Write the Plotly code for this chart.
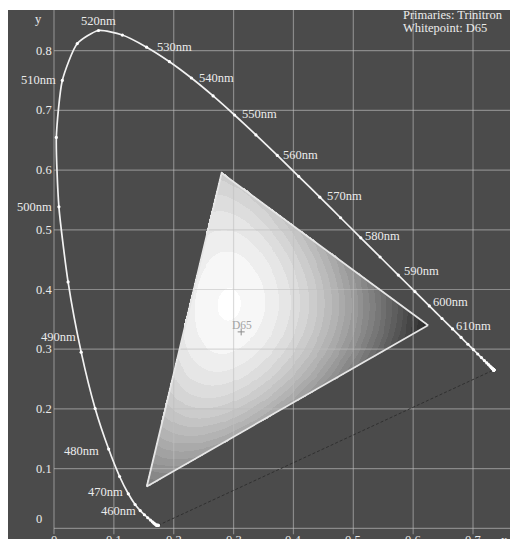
import numpy as np
import plotly.graph_objects as go

# CIE 1931 2-degree spectral locus, 5 nm steps (wavelength, x, y)
wavelengths = list(range(380, 705, 5)) + [710, 720, 730, 740, 750, 760, 770, 780]
locus_x = [0.1741, 0.1740, 0.1738, 0.1736, 0.1733, 0.1730, 0.1726, 0.1721, 0.1714, 0.1703,
           0.1689, 0.1669, 0.1644, 0.1611, 0.1566, 0.1510, 0.1440, 0.1355, 0.1241, 0.1096,
           0.0913, 0.0687, 0.0454, 0.0235, 0.0082, 0.0039, 0.0139, 0.0389, 0.0743, 0.1142,
           0.1547, 0.1929, 0.2296, 0.2658, 0.3016, 0.3373, 0.3731, 0.4087, 0.4441, 0.4788,
           0.5125, 0.5448, 0.5752, 0.6029, 0.6270, 0.6482, 0.6658, 0.6801, 0.6915, 0.7006,
           0.7079, 0.7140, 0.7190, 0.7230, 0.7260, 0.7283, 0.7300, 0.7311, 0.7320, 0.7327,
           0.7334, 0.7340, 0.7344, 0.7346, 0.7347,
           0.7347, 0.7347, 0.7347, 0.7347, 0.7347, 0.7347, 0.7347, 0.7347]
locus_y = [0.0050, 0.0050, 0.0049, 0.0049, 0.0048, 0.0048, 0.0048, 0.0048, 0.0051, 0.0058,
           0.0069, 0.0086, 0.0109, 0.0138, 0.0177, 0.0227, 0.0297, 0.0399, 0.0578, 0.0868,
           0.1327, 0.2007, 0.2950, 0.4127, 0.5384, 0.6548, 0.7502, 0.8120, 0.8338, 0.8262,
           0.8059, 0.7816, 0.7543, 0.7243, 0.6923, 0.6589, 0.6245, 0.5896, 0.5547, 0.5202,
           0.4866, 0.4544, 0.4242, 0.3965, 0.3725, 0.3514, 0.3340, 0.3197, 0.3083, 0.2993,
           0.2920, 0.2859, 0.2809, 0.2770, 0.2740, 0.2717, 0.2700, 0.2689, 0.2680, 0.2673,
           0.2666, 0.2660, 0.2656, 0.2654, 0.2653,
           0.2653, 0.2653, 0.2653, 0.2653, 0.2653, 0.2653, 0.2653, 0.2653]

labelled_nm = [460, 470, 480, 490, 500, 510, 520, 530, 540, 550, 560, 570, 580, 590, 600, 610]

# Trinitron primaries and D65 white point
primary_names = ["R", "G", "B"]
primary_x = [0.625, 0.280, 0.155]
primary_y = [0.340, 0.595, 0.070]
white_name = "D65"
white_x, white_y = 0.3127, 0.3290

x_ticks = [0, 0.1, 0.2, 0.3, 0.4, 0.5, 0.6, 0.7]
y_ticks = [0, 0.1, 0.2, 0.3, 0.4, 0.5, 0.6, 0.7, 0.8]
x_tick_text = ["0", "0.1", "0.2", "0.3", "0.4", "0.5", "0.6", "0.7"]
y_tick_text = ["0", "0.1", "0.2", "0.3", "0.4", "0.5", "0.6", "0.7", "0.8"]

BG = "#4b4b4b"
FG = "#ebebeb"
GRID = "rgba(191,191,191,0.55)"
FONT = "Liberation Serif, Times New Roman, serif"

X_RANGE = [-0.07685, 0.76178]
Y_RANGE = [-0.01792, 0.86817]

# grey shading of the gamut: corner tones, edge-midpoint tones, centre lift
CORNER_TONE = {"R": 0.15, "G": 0.80, "B": 0.48}
EDGE_TONE = {("G", "R"): 0.68, ("B", "R"): 0.64, ("B", "G"): 0.92}
CENTRE_LIFT = 0.10
TONE_STEPS = 30

fig = go.Figure()

# ---- gamut fill ----
gx = np.arange(0.150, 0.632, 0.0016)
gy = np.arange(0.066, 0.600, 0.0016)
GX, GY = np.meshgrid(gx, gy)
P = {n: np.array([px_, py_]) for n, px_, py_ in zip(primary_names, primary_x, primary_y)}
R, G, B = P["R"], P["G"], P["B"]
det = (R[0] - B[0]) * (G[1] - B[1]) - (R[1] - B[1]) * (G[0] - B[0])
dx_, dy_ = GX - B[0], GY - B[1]
bary = {}
bary["R"] = (dx_ * (G[1] - B[1]) - dy_ * (G[0] - B[0])) / det
bary["G"] = ((R[0] - B[0]) * dy_ - (R[1] - B[1]) * dx_) / det
bary["B"] = 1 - bary["R"] - bary["G"]
inside = (bary["R"] >= -0.003) & (bary["G"] >= -0.003) & (bary["B"] >= -0.003)
bc = {k: np.clip(v, 0, 1) for k, v in bary.items()}

# quadratic Bernstein patch on the triangle plus a cubic bubble term
tone = sum(CORNER_TONE[k] * bc[k] ** 2 for k in primary_names)
for (i, j), m in EDGE_TONE.items():
    ctrl = 2 * m - (CORNER_TONE[i] + CORNER_TONE[j]) / 2
    tone = tone + 2 * ctrl * bc[i] * bc[j]
tone = tone + CENTRE_LIFT * 27 * bc["R"] * bc["G"] * bc["B"]
tone = np.clip(tone, 0, 1)
tone = np.round(tone * TONE_STEPS) / TONE_STEPS
z = np.where(inside, tone, np.nan)
fig.add_trace(go.Heatmap(x=gx, y=gy, z=z, zmin=0, zmax=1,
                         colorscale=[[0, "#000000"], [1, "#ffffff"]],
                         showscale=False, hoverinfo="skip", zsmooth=False))

# ---- grid ----
gxs, gys = [], []
for t in y_ticks:
    gxs += [0, X_RANGE[1], None]
    gys += [t, t, None]
for t in x_ticks:
    gxs += [t, t, None]
    gys += [-0.01, Y_RANGE[1], None]
fig.add_trace(go.Scatter(x=gxs, y=gys, mode="lines",
                         line=dict(color=GRID, width=1.2), hoverinfo="skip"))

# ---- line of purples ----
fig.add_trace(go.Scatter(x=[locus_x[0], locus_x[-1]], y=[locus_y[0], locus_y[-1]],
                         mode="lines", line=dict(color="#303030", width=1, dash="3px,2px"),
                         hoverinfo="skip"))

# ---- gamut outline ----
fig.add_trace(go.Scatter(x=primary_x + [primary_x[0]], y=primary_y + [primary_y[0]],
                         mode="lines", line=dict(color="#e6e6e6", width=1.8),
                         hoverinfo="skip"))

# ---- spectral locus ----
fig.add_trace(go.Scatter(x=locus_x, y=locus_y, mode="lines+markers",
                         line=dict(color="#f2f2f2", width=1.7, shape="spline", smoothing=0.6),
                         marker=dict(color="#ffffff", size=3.2),
                         hoverinfo="skip"))

# ---- white point ----
fig.add_trace(go.Scatter(x=[white_x], y=[white_y], mode="markers",
                         marker=dict(symbol="cross-thin", size=5,
                                     line=dict(color="#8c8c8c", width=1)),
                         hoverinfo="skip"))

annotations = []

# wavelength label placement: (anchor, x shift px, y shift px)
placement = {460: ("right", -2, 0), 470: ("right", -3, 2), 480: ("right", -8, -2),
             490: ("right", -3, 15), 500: ("right", -5, 0), 510: ("right", -4, 0),
             520: ("center", 0, 10),
             530: ("left", 8, 0), 540: ("left", 6, 0), 550: ("left", 5, 1),
             560: ("left", 4, 0), 570: ("left", 5, 1), 580: ("left", 2, 2),
             590: ("left", 4, 4), 600: ("left", 2, 4), 610: ("left", 1, 3)}
for nm in labelled_nm:
    i = wavelengths.index(nm)
    anchor, dx, dy = placement[nm]
    annotations.append(dict(x=locus_x[i], y=locus_y[i], xref="x", yref="y",
                            text=f"{nm}nm", showarrow=False, xanchor=anchor,
                            yanchor="middle", xshift=dx, yshift=dy,
                            font=dict(family=FONT, size=12.5, color=FG)))

# D65 caption
annotations.append(dict(x=white_x, y=white_y, xref="x", yref="y", text=white_name,
                        showarrow=False, xanchor="center", yanchor="middle",
                        yshift=7, xshift=1,
                        font=dict(family=FONT, size=11.5, color="#a3a3a3")))

# axis tick labels
for t, s in zip(y_ticks, y_tick_text):
    if t == 0:
        annotations.append(dict(x=0, y=t, xref="x", yref="y", text=s, showarrow=False,
                                xanchor="right", yanchor="middle", xshift=-10, yshift=9,
                                font=dict(family=FONT, size=12.5, color=FG)))
    else:
        annotations.append(dict(x=0, y=t, xref="x", yref="y", text=s, showarrow=False,
                                xanchor="right", yanchor="middle", xshift=0,
                                font=dict(family=FONT, size=12.5, color=FG)))
for t, s in zip(x_ticks, x_tick_text):
    annotations.append(dict(x=t, y=0, xref="x", yref="y", text=s, showarrow=False,
                            xanchor="center", yanchor="top", yshift=-3,
                            font=dict(family=FONT, size=12.5, color=FG)))

# axis names
annotations.append(dict(x=0, y=Y_RANGE[1], xref="x", yref="y", text="y", showarrow=False,
                        xanchor="right", yanchor="top", xshift=-10, yshift=0,
                        font=dict(family=FONT, size=12.5, color=FG)))
annotations.append(dict(x=X_RANGE[1], y=0, xref="x", yref="y", text="x", showarrow=False,
                        xanchor="right", yanchor="top", yshift=-3,
                        font=dict(family=FONT, size=12.5, color=FG)))

# header text
annotations.append(dict(x=401, y=15, xref="x domain", yref="y domain",
                        text="Primaries: Trinitron", showarrow=False))
annotations.append(dict(x=401, y=28, xref="x domain", yref="y domain",
                        text="Whitepoint: D65", showarrow=False))
for a in annotations[-2:]:
    px_x, px_y = a["x"], a["y"]
    a["x"] = (px_x - 8) / 502
    a["y"] = 1 - (px_y - 10) / 529
    a.update(xanchor="left", yanchor="middle",
             font=dict(family=FONT, size=12.5, color=FG))

fig.update_layout(
    width=510, height=539,
    margin=dict(l=8, r=0, t=10, b=0),
    paper_bgcolor="#ffffff",
    plot_bgcolor=BG,
    showlegend=False,
    annotations=annotations,
    xaxis=dict(range=X_RANGE, showgrid=False, zeroline=False, showticklabels=False,
               ticks="", showline=False, fixedrange=True),
    yaxis=dict(range=Y_RANGE, showgrid=False, zeroline=False, showticklabels=False,
               ticks="", showline=False, fixedrange=True),
)

fig.write_html("out.html", config={"displayModeBar": False})
